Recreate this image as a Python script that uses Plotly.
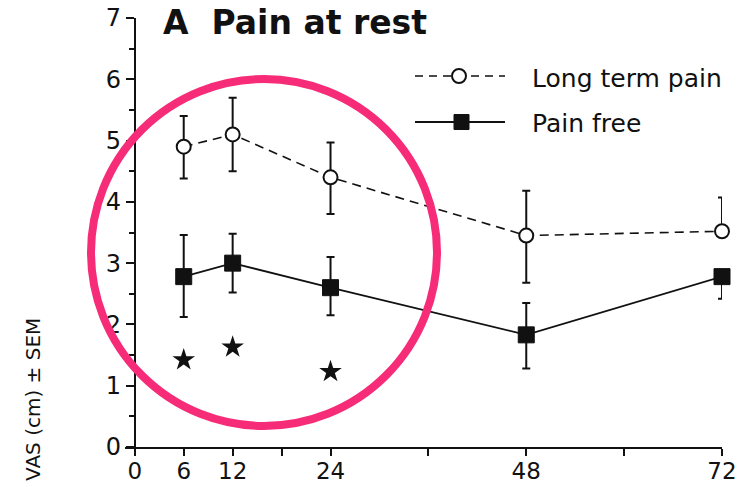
import plotly.graph_objects as go

# Hours after surgery
hours = [6, 12, 24, 48, 72]

# Long term pain group: mean VAS and SEM (upper / lower)
long_term_mean = [4.9, 5.1, 4.4, 3.45, 3.52]
long_term_sem_up = [0.5, 0.6, 0.57, 0.73, 0.55]
long_term_sem_down = [0.52, 0.6, 0.6, 0.77, 0.0]

# Pain free group: mean VAS and SEM (upper / lower)
pain_free_mean = [2.78, 3.0, 2.6, 1.83, 2.78]
pain_free_sem_up = [0.68, 0.48, 0.5, 0.52, 0.0]
pain_free_sem_down = [0.66, 0.48, 0.45, 0.55, 0.36]

# Significance markers
star_hours = [6, 12, 24]
star_levels = [1.42, 1.63, 1.23]

x_tick_vals = [0, 6, 12, 18, 24, 36, 48, 60, 72]
x_tick_text = ["0", "6", "12", "", "24", "", "48", "", "72"]
y_tick_vals = [0, 1, 2, 3, 4, 5, 6, 7]

W, H = 745, 487
ML, MR, MT, MB = 125, 23, 18, 40
X_RANGE = [-1.2, 72]
Y_RANGE = [0, 7]

INK = "#111111"
FONT = "DejaVu Sans"


def px(xp):
    return (xp - ML) / (W - ML - MR)


def py(yp):
    return (H - MB - yp) / (H - MT - MB)


fig = go.Figure()

fig.add_trace(go.Scatter(
    x=hours, y=long_term_mean, mode="lines+markers", name="Long term pain",
    line=dict(color=INK, width=1.6, dash="9px,6px"),
    marker=dict(symbol="circle", size=14, color="white",
                line=dict(color=INK, width=2)),
    error_y=dict(type="data", symmetric=False, array=long_term_sem_up,
                 arrayminus=long_term_sem_down, color=INK, thickness=2, width=4),
    cliponaxis=False, showlegend=False,
))

fig.add_trace(go.Scatter(
    x=hours, y=pain_free_mean, mode="lines+markers", name="Pain free",
    line=dict(color=INK, width=1.8),
    marker=dict(symbol="square", size=16, color=INK,
                line=dict(color=INK, width=1)),
    error_y=dict(type="data", symmetric=False, array=pain_free_sem_up,
                 arrayminus=pain_free_sem_down, color=INK, thickness=2, width=4),
    cliponaxis=False, showlegend=False,
))

fig.add_trace(go.Scatter(
    x=star_hours, y=star_levels, mode="markers", name="p < 0.05",
    marker=dict(symbol="star", size=17, color=INK, line=dict(width=0)),
    cliponaxis=False, showlegend=False,
))

shapes = []
annotations = []

# Legend keys
shapes.append(dict(type="line", xref="paper", yref="paper",
                   x0=px(415), x1=px(505), y0=py(76), y1=py(76),
                   line=dict(color=INK, width=1.6, dash="8px,6px"), layer="above"))
shapes.append(dict(type="circle", xref="paper", yref="paper",
                   x0=px(452), x1=px(466), y0=py(83), y1=py(69),
                   fillcolor="white", line=dict(color=INK, width=2), layer="above"))
shapes.append(dict(type="line", xref="paper", yref="paper",
                   x0=px(415), x1=px(505), y0=py(122), y1=py(122),
                   line=dict(color=INK, width=1.8), layer="above"))
shapes.append(dict(type="rect", xref="paper", yref="paper",
                   x0=px(454), x1=px(469), y0=py(129.5), y1=py(114.5),
                   fillcolor=INK, line=dict(color=INK, width=1), layer="above"))

annotations.append(dict(text="Long term pain", xref="paper", yref="paper",
                        x=px(530), y=py(79), xanchor="left", yanchor="middle",
                        showarrow=False, font=dict(family=FONT, size=25, color=INK)))
annotations.append(dict(text="Pain free", xref="paper", yref="paper",
                        x=px(530), y=py(124), xanchor="left", yanchor="middle",
                        showarrow=False, font=dict(family=FONT, size=25, color=INK)))

# Panel title
annotations.append(dict(text="<b>A\u00a0\u00a0Pain at rest</b>", xref="paper", yref="paper",
                        x=px(161), y=py(22), xanchor="left", yanchor="middle",
                        showarrow=False, font=dict(family=FONT, size=33, color=INK)))

# Y axis title
annotations.append(dict(text="VAS (cm) \u00b1 SEM", xref="paper", yref="paper",
                        x=px(33), y=py(400), xanchor="center", yanchor="middle",
                        textangle=-90, showarrow=False,
                        font=dict(family=FONT, size=20, color=INK)))

# Highlight ring
shapes.append(dict(type="circle", xref="paper", yref="paper",
                   x0=px(91), x1=px(437), y0=py(426), y1=py(79),
                   line=dict(color="#f72c78", width=8), layer="above"))

fig.update_layout(
    width=W, height=H,
    margin=dict(l=ML, r=MR, t=MT, b=MB, autoexpand=False),
    paper_bgcolor="white", plot_bgcolor="white",
    showlegend=False,
    shapes=shapes, annotations=annotations,
    xaxis=dict(
        range=X_RANGE, showgrid=False, zeroline=False, automargin=False,
        showline=True, linecolor=INK, linewidth=2,
        ticks="outside", ticklen=7, tickwidth=2, tickcolor=INK,
        tickvals=x_tick_vals, ticktext=x_tick_text,
        tickfont=dict(family=FONT, size=23, color=INK),
        ticklabelstandoff=-5,
    ),
    yaxis=dict(
        range=Y_RANGE, showgrid=False, zeroline=False, automargin=False,
        anchor="free", position=(0 - X_RANGE[0]) / (X_RANGE[1] - X_RANGE[0]),
        showline=True, linecolor=INK, linewidth=2,
        ticks="outside", ticklen=8, tickwidth=2, tickcolor=INK,
        tickvals=y_tick_vals,
        tickfont=dict(family=FONT, size=24, color=INK),
        minor=dict(dtick=0.5, ticklen=5, tickwidth=2, tickcolor=INK,
                   ticks="outside", showgrid=False),
    ),
)

fig.write_html("out.html")
